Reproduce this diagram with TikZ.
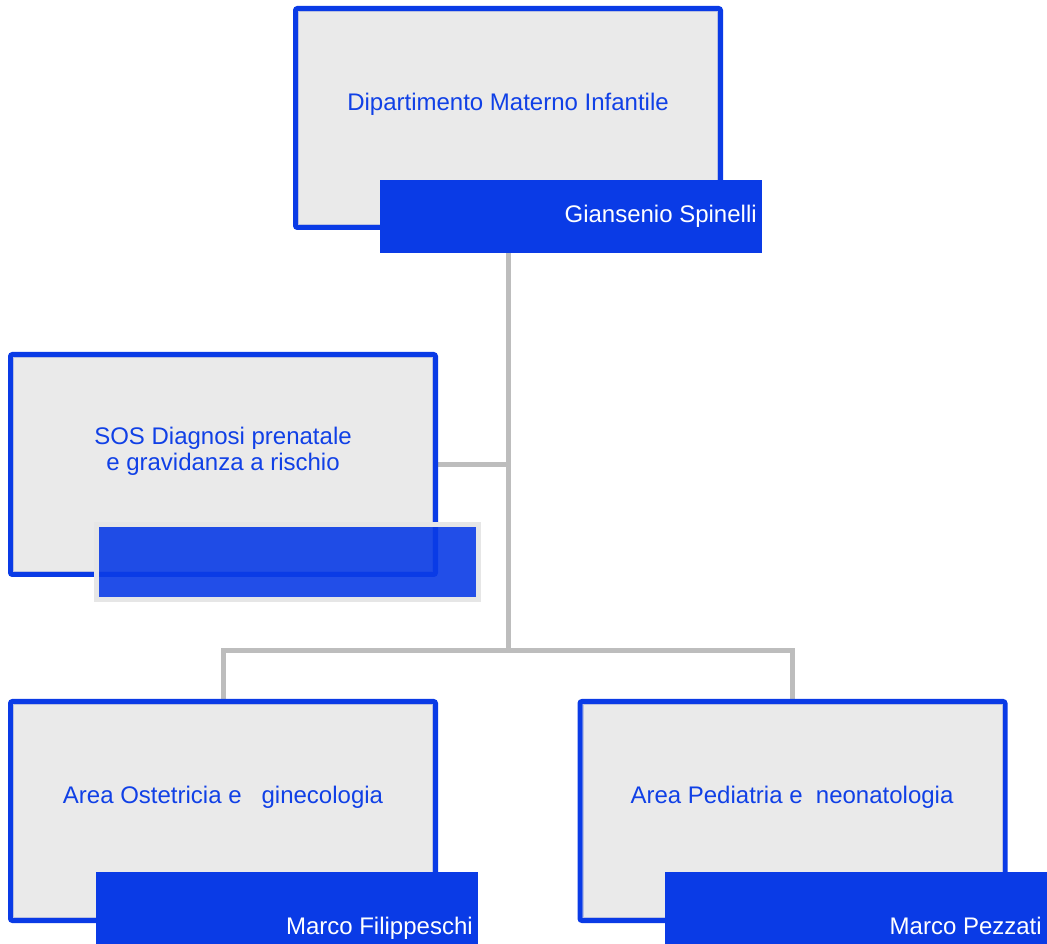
\documentclass[tikz,border=0pt]{standalone}
\usepackage{fontspec}
\setmainfont{Liberation Sans}
\usetikzlibrary{backgrounds,calc}
\definecolor{bblue}{RGB}{10,59,230}
\definecolor{tblue}{RGB}{16,64,230}
\definecolor{boxgray}{RGB}{234,234,234}
\definecolor{linegray}{RGB}{189,189,189}
\definecolor{innerline}{RGB}{185,192,225}
\definecolor{shadowgray}{RGB}{230,230,230}
\begin{document}
\begin{tikzpicture}[x=0.75pt,y=-0.75pt,
 unitbox/.style={rectangle, draw=bblue, fill=boxgray, line width=3.75pt, rounded corners=1.5pt, inner sep=0pt, outer sep=0pt, minimum width=318.75pt, minimum height=164.25pt},
 namebox/.style={rectangle, fill=bblue, inner sep=0pt, outer sep=0pt, minimum width=286.5pt, minimum height=54.75pt},
 titletext/.style={text=tblue, font=\fontsize{18}{19.5}\selectfont, inner sep=0pt, align=center},
 nametext/.style={text=white, font=\fontsize{18}{18}\selectfont, inner sep=0pt, anchor=base east},
 conn/.style={draw=linegray, line width=3.75pt},
 innerl/.style={draw=innerline, line width=0.6pt}]
\useasboundingbox (0,0) rectangle (1047,944);

% unit boxes
\node[unitbox] (dip) at (508,118) {};
\node[unitbox, minimum height=165pt] (sos) at (223,464.5) {};
\node[unitbox] (ost) at (223,811) {};
\node[unitbox] (ped) at (792.5,811) {};

\foreach \b in {dip,sos,ost,ped}{
  \draw[innerl] ($(\b.south west)+(3,-3)$) rectangle ($(\b.north east)+(-3,3)$);
}

% name boxes
\node[namebox] (dipn) at (571,216.5) {};
\node[namebox, fill opacity=0.9, draw=shadowgray, line width=3.75pt, minimum height=56.25pt] (sosn) at (287,562.5) {};
\node[namebox] (ostn) at (287,908.5) {};
\node[namebox] (pedn) at (856,908.5) {};

% texts
\node[titletext, anchor=base] (diptx) at (508,111) {Dipartimento Materno Infantile};
\node[titletext] (sostx) at (223,451.5) {SOS Diagnosi prenatale\\e gravidanza a rischio};
\node[titletext, anchor=base] (osttx) at (223,804) {Area Ostetricia e\ \ \ ginecologia};
\node[titletext, anchor=base] (pedtx) at (792,804) {Area Pediatria e\ \ neonatologia};

\node[nametext] (dipname) at (757,223) {Giansenio Spinelli};
\node[nametext] (ostname) at (473,934) {Marco Filippeschi};
\node[nametext] (pedname) at (1042,934) {Marco Pezzati};

% connectors
\begin{scope}[on background layer]
\coordinate (j) at (508,651);
\draw[conn] (dip.south) -- (j);
\draw[conn] (sos.east) -- (sos.east -| j);
\draw[conn] (ost.north) -- (ost.north |- j) -- (ped.north |- j) -- (ped.north);
\end{scope}
\end{tikzpicture}
\end{document}
